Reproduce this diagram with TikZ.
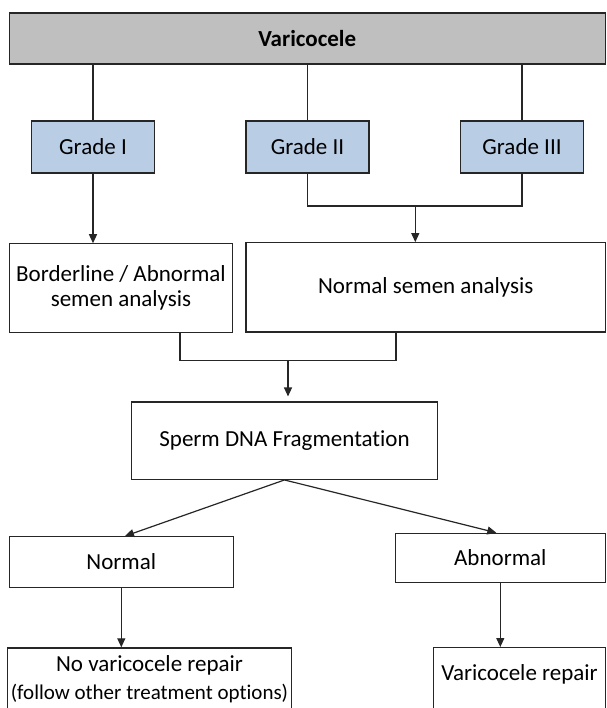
\documentclass[tikz,border=0pt]{standalone}
\usepackage{fontspec}
\setmainfont{Carlito}[Ligatures=NoCommon]
\usetikzlibrary{positioning}
\usetikzlibrary{arrows.meta}
\definecolor{headgray}{HTML}{BFBFBF}
\definecolor{gradeblue}{HTML}{B9CDE5}
\definecolor{boxline}{HTML}{262626}
\tikzset{
    box/.style={ % Plain white box with centred text
    draw=boxline,
    line width=1.2pt,
    inner sep=3pt,
    align=center,
    font=\fontsize{23}{25}\selectfont},
    gradebox/.style={box, fill=gradeblue, minimum width=123pt, minimum height=52pt},
    flow/.style={draw=boxline, line width=1.2pt}, % Plain joining line
    arrow/.style={flow, -{Triangle[length=9pt,width=8pt]}}}

\begin{document}
\begin{tikzpicture}[x=1pt, y=-1pt]
        \useasboundingbox (0,0) rectangle (606,708);

        % Top box
        \node[box, fill=headgray, minimum width=596pt, minimum height=51pt,
              font=\fontsize{23}{25}\selectfont\bfseries] (var) at (307.3,38.5) {Varicocele};

        % Grade boxes
        \node[gradebox] (g1) at (93,147) {Grade I};
        \node[gradebox] (g2) at (307.5,147) {Grade II};
        \node[gradebox] (g3) at (522,147) {Grade III};

        % Semen analysis
        \node[box, minimum width=223.4pt, minimum height=88.3pt] (bord) at (121,288) {Borderline / Abnormal\\semen analysis};
        \node[box, minimum width=359.3pt, minimum height=89.3pt] (nsa) at (425.7,287.4) {Normal semen analysis};

        % DNA fragmentation
        \node[box, minimum width=305.6pt, minimum height=77.3pt] (sdf) at (284.5,440.7) {Sperm DNA Fragmentation};

        % Test results
        \node[box, minimum width=224pt, minimum height=50.6pt] (norm) at (121.3,562) {Normal};
        \node[box, minimum width=210pt, minimum height=49.4pt] (abn) at (500.3,558) {Abnormal};

        % Treatment (both boxes run past the bottom edge)
        \node[box, anchor=north, minimum width=280.4pt, text height=48.2pt, text depth=30pt,
              font=\fontsize{23}{27.7}\selectfont] (norep) at (149.5,647.3)
              {No varicocele repair\\{\fontsize{21}{27.7}\selectfont (follow other treatment options)}};
        \node[box, anchor=north, minimum width=171.6pt, text height=30pt, text depth=30pt] (rep) at (519.5,647) {Varicocele repair};

        % Varicocele to grades
        \foreach \g in {g1,g2,g3} {
                \draw[flow] (var.south -| \g) -- (\g.north);
            }

        % Grade I alone, Grades II and III joined
        \draw[arrow] (g1.south) -- (g1.south |- bord.north);
        \coordinate (j1) at (415.3,206);
        \draw[flow] (g2.south) |- (j1) -| (g3.south);
        \draw[arrow] (j1) -- (j1 |- nsa.north);

        % Both semen results joined
        \coordinate (j2) at (288,360.3);
        \draw[flow] ([xshift=59pt]bord.south) |- (j2) -| ([xshift=-29.7pt]nsa.south);
        \draw[arrow, shorten >=5pt] (j2) -- (j2 |- sdf.north);

        % Split on the result
        \draw[arrow] (sdf.south) -- ([xshift=3.7pt]norm.north);
        \draw[arrow] (sdf.south) -- ([xshift=-4pt]abn.north);

        \draw[arrow] (norm.south) -- (norm.south |- norep.north);
        \draw[arrow] (abn.south) -- (abn.south |- rep.north);

    \end{tikzpicture}
\end{document}
